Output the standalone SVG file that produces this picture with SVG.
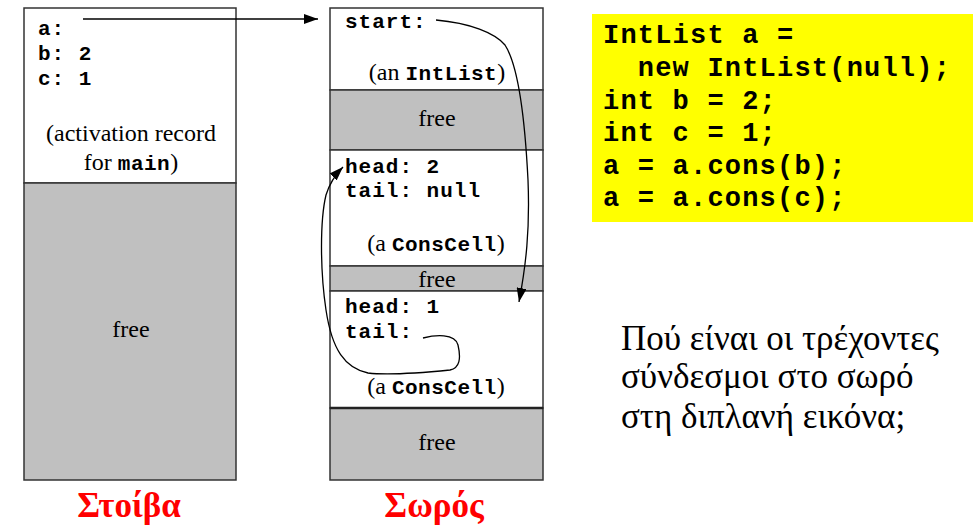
<svg xmlns="http://www.w3.org/2000/svg" width="980" height="525" viewBox="0 0 980 525">
<style>
.box{fill:#fff;stroke:#333;stroke-width:1.5}
.free{fill:#c0c0c0;stroke:#333;stroke-width:1.5}
.mono{font-family:"Liberation Mono","Courier New",monospace;font-weight:bold;font-size:21px;letter-spacing:1px;fill:#000}
.ser{font-family:"Liberation Serif","Times New Roman",serif;font-size:24px;fill:#000}
.code{font-family:"Liberation Mono","Courier New",monospace;font-weight:bold;font-size:27px;letter-spacing:1.2px;fill:#000}
.title{font-family:"Liberation Serif","Times New Roman",serif;font-weight:bold;font-size:35px;fill:#ff0000;text-anchor:middle}
.q{font-family:"Liberation Serif","Times New Roman",serif;font-size:35px;fill:#000}
.conn{fill:none;stroke:#000;stroke-width:1.3}
</style>
<defs>
<marker id="ah" viewBox="0 0 14 10" refX="14" refY="5" markerWidth="14" markerHeight="10" markerUnits="userSpaceOnUse" orient="auto">
<path d="M0,0 L14,5 L0,10 z" fill="#000"/>
</marker>
</defs>

<g id="stack">
<rect class="box" x="24" y="8" width="212" height="175"/>
<rect class="free" x="24" y="183" width="212" height="297"/>
<text class="mono" x="38" y="35">a:</text>
<text class="mono" x="38" y="60">b: 2</text>
<text class="mono" x="38" y="85">c: 1</text>
<text class="ser" x="131" y="141" text-anchor="middle">(activation record</text>
<text class="ser" x="131" y="170" text-anchor="middle">for <tspan class="mono" style="letter-spacing:0.5px">main</tspan>)</text>
<text class="ser" x="131" y="337" text-anchor="middle">free</text>
</g>

<g id="heap-intlist">
<rect class="box" x="330" y="8" width="213" height="82"/>
<text class="mono" x="345" y="28">start:</text>
<text class="ser" x="437" y="80" text-anchor="middle">(an <tspan class="mono" style="letter-spacing:0.5px">IntList</tspan>)</text>
</g>
<g id="heap-free1">
<rect class="free" x="330" y="90" width="213" height="60"/>
<text class="ser" x="437" y="126" text-anchor="middle">free</text>
</g>
<g id="heap-cons1">
<rect class="box" x="330" y="150" width="213" height="116"/>
<text class="mono" x="345" y="173">head: 2</text>
<text class="mono" x="345" y="197">tail: null</text>
<text class="ser" x="436" y="251" text-anchor="middle">(a <tspan class="mono" style="letter-spacing:0.5px">ConsCell</tspan>)</text>
</g>
<g id="heap-free2">
<rect class="free" x="330" y="266" width="213" height="25"/>
<text class="ser" x="437" y="287" text-anchor="middle">free</text>
</g>
<g id="heap-cons2">
<rect class="box" x="330" y="291" width="213" height="117"/>
<text class="mono" x="345" y="313">head: 1</text>
<text class="mono" x="345" y="338">tail:</text>
<text class="ser" x="436" y="394" text-anchor="middle">(a <tspan class="mono" style="letter-spacing:0.5px">ConsCell</tspan>)</text>
</g>
<g id="heap-free3">
<rect class="free" x="330" y="408" width="213" height="72"/>
<line x1="330" y1="408" x2="543" y2="408" stroke="#222" stroke-width="2.5"/>
<text class="ser" x="437" y="450" text-anchor="middle">free</text>
</g>

<g id="code">
<rect x="592" y="14" width="381" height="208" fill="#ffff00"/>
<text class="code" x="603" y="43" xml:space="preserve">IntList a =</text>
<text class="code" x="603" y="76" xml:space="preserve">  new IntList(null);</text>
<text class="code" x="603" y="109">int b = 2;</text>
<text class="code" x="603" y="141">int c = 1;</text>
<text class="code" x="603" y="174">a = a.cons(b);</text>
<text class="code" x="603" y="206">a = a.cons(c);</text>
</g>

<g id="question">
<text class="q" x="621" y="350">Πού είναι οι τρέχοντες</text>
<text class="q" x="621" y="388">σύνδεσμοι στο σωρό</text>
<text class="q" x="621" y="428">στη διπλανή εικόνα;</text>
</g>

<g id="labels">
<text class="title" x="129" y="517">Στοίβα</text>
<text class="title" x="434" y="517">Σωρός</text>
</g>

<g id="connectors">
<line class="conn" x1="83" y1="19" x2="318" y2="19" marker-end="url(#ah)"/>
<path class="conn" d="M436 20 C470 23 495 33 505 45 C518 65 525 120 528 180 C530 230 526 265 519 302" marker-end="url(#ah)"/>
<path class="conn" d="M423 338 C435 335 455 333 458 345 C461 358 460 368 450 370 C420 373 385 375 368 373 C345 368 332 350 326 310 C320 270 320 220 326 195 C330 182 336 174 343 167" marker-end="url(#ah)"/>
</g>
</svg>
